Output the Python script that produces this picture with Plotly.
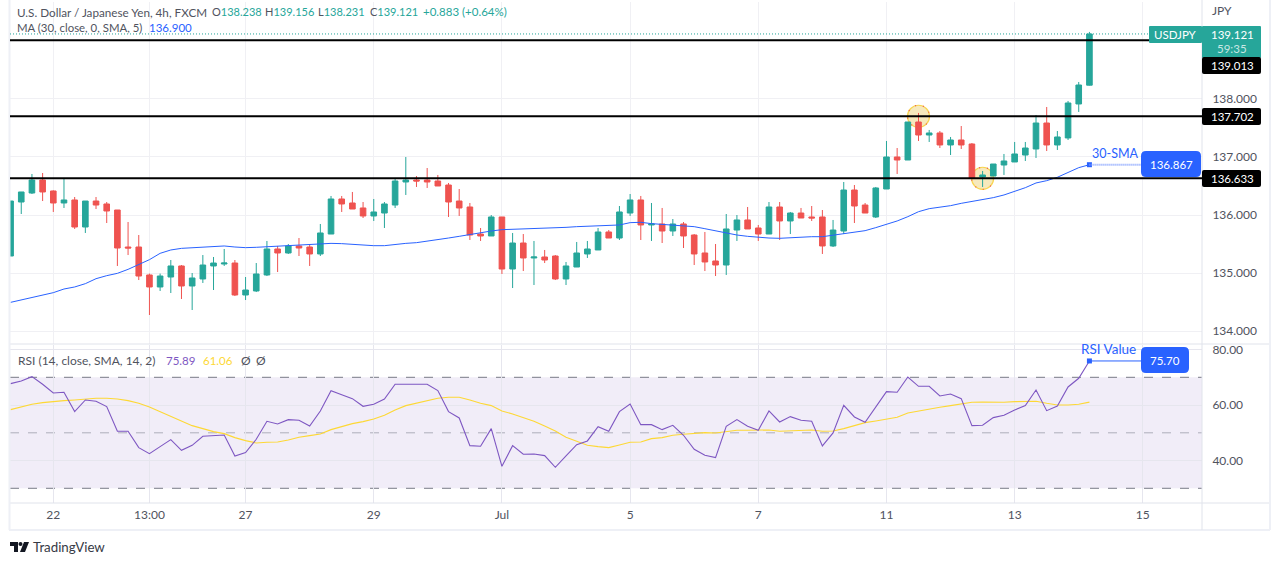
import plotly.graph_objects as go

W = 1274
H = 565
FONT = "Lato, 'Open Sans', sans-serif"

UP = "#26a69a"
DOWN = "#ef5350"
BLUE = "#2962ff"
PURPLE = "#7e57c2"
YELLOW = "#fdd835"
GRID = "#f0f0f4"
RSI_GRID = "#e6e6ee"
BORDER = "#e0e3eb"
TEXT = "#50535e"

# 4h USD/JPY candles
opens = [135.293, 136.224, 136.379, 136.603, 136.414, 136.207, 136.259, 135.793, 136.241, 136.19,
         136.086, 135.448, 135.448, 134.966, 134.759, 134.931, 135.121, 134.776, 134.897, 135.121,
         135.155, 135.172, 134.621, 134.69, 134.966, 135.414, 135.345, 135.466, 135.448, 135.328,
         135.672, 136.276, 136.207, 136.121, 135.983, 136.034, 136.172, 136.569, 136.603, 136.603,
         136.586, 136.517, 136.241, 136.138, 135.672, 135.638, 135.966, 135.069, 135.517, 135.259,
         135.276, 135.293, 134.897, 135.103, 135.328, 135.397, 135.707, 135.603, 136.034, 136.259,
         135.828, 135.845, 135.724, 135.845, 135.655, 135.345, 135.207, 135.138, 135.741, 135.914,
         135.776, 135.672, 136.138, 135.897, 136.034, 135.966, 135.966, 135.466, 135.724, 136.431,
         136.172, 135.966, 136.448, 137.0, 136.948, 137.603, 137.379, 137.414, 137.207, 137.293,
         137.224, 136.655, 136.672, 136.862, 136.914, 137.034, 137.138, 137.586, 137.207, 137.328,
         137.914, 138.238]
highs = [136.241, 136.397, 136.707, 136.724, 136.425, 136.638, 136.31, 136.241, 136.31, 136.224,
         136.086, 135.879, 135.655, 134.99, 134.99, 135.224, 135.138, 135.0, 135.31, 135.276,
         135.414, 135.224, 134.931, 135.172, 135.552, 135.466, 135.5, 135.603, 135.5, 135.845,
         136.328, 136.328, 136.397, 136.224, 136.276, 136.224, 136.621, 137.0, 136.672, 136.81,
         136.69, 136.552, 136.448, 136.207, 135.776, 136.0, 135.966, 135.69, 135.672, 135.552,
         135.397, 135.31, 135.19, 135.535, 135.552, 135.776, 135.741, 136.155, 136.362, 136.328,
         136.207, 136.121, 135.931, 135.879, 135.672, 135.707, 135.5, 136.017, 136.0, 136.138,
         135.828, 136.224, 136.224, 136.052, 136.121, 136.155, 136.086, 135.914, 136.569, 136.517,
         136.207, 136.483, 137.276, 137.155, 137.603, 137.759, 137.466, 137.448, 137.345, 137.534,
         137.241, 136.759, 136.879, 137.052, 137.259, 137.259, 137.724, 137.862, 137.448, 137.966,
         138.293, 139.156]
lows = [135.293, 136.017, 136.362, 136.241, 136.052, 136.121, 135.759, 135.69, 136.103, 135.862,
        135.121, 135.31, 134.879, 134.276, 134.69, 134.655, 134.552, 134.362, 134.828, 134.707,
        135.121, 134.603, 134.534, 134.672, 134.948, 135.017, 135.328, 135.293, 135.121, 135.293,
        135.672, 136.052, 136.103, 135.948, 135.897, 135.776, 136.121, 136.345, 136.483, 136.466,
        136.5, 135.966, 135.983, 135.569, 135.552, 135.638, 134.983, 134.741, 135.034, 134.793,
        135.172, 134.879, 134.793, 135.103, 135.259, 135.397, 135.603, 135.569, 135.983, 135.569,
        135.552, 135.517, 135.638, 135.431, 135.138, 135.034, 134.948, 134.966, 135.552, 135.759,
        135.552, 135.672, 135.569, 135.672, 135.948, 135.897, 135.328, 135.448, 135.672, 135.862,
        136.034, 135.948, 136.448, 136.707, 136.948, 137.276, 137.259, 137.155, 137.034, 137.138,
        136.638, 136.483, 136.672, 136.69, 136.914, 136.931, 136.983, 137.103, 137.121, 137.293,
        137.776, 138.231]
closes = [136.241, 136.397, 136.603, 136.397, 136.207, 136.259, 135.793, 136.241, 136.172, 136.069,
          135.431, 135.431, 134.948, 134.759, 134.948, 135.121, 134.776, 134.914, 135.138, 135.172,
          135.172, 134.621, 134.707, 134.983, 135.414, 135.345, 135.466, 135.431, 135.328, 135.69,
          136.276, 136.19, 136.103, 135.983, 136.052, 136.19, 136.586, 136.603, 136.586, 136.569,
          136.5, 136.224, 136.121, 135.655, 135.638, 135.966, 135.069, 135.517, 135.259, 135.276,
          135.224, 134.897, 135.121, 135.345, 135.414, 135.707, 135.603, 136.052, 136.259, 135.828,
          135.845, 135.724, 135.845, 135.638, 135.328, 135.19, 135.138, 135.759, 135.914, 135.759,
          135.672, 136.138, 135.897, 136.034, 135.948, 135.948, 135.466, 135.741, 136.431, 136.155,
          136.034, 136.466, 137.0, 136.948, 137.603, 137.379, 137.414, 137.207, 137.293, 137.207,
          136.638, 136.69, 136.879, 136.931, 137.052, 137.155, 137.586, 137.207, 137.345, 137.931,
          138.241, 139.121]
sma = [134.494, 134.534, 134.58, 134.626, 134.661, 134.724, 134.759, 134.816, 134.902, 134.954,
       134.994, 135.063, 135.144, 135.23, 135.339, 135.397, 135.425, 135.437, 135.448, 135.46,
       135.466, 135.448, 135.437, 135.443, 135.454, 135.46, 135.471, 135.488, 135.5, 135.506,
       135.511, 135.506, 135.494, 135.483, 135.471, 135.471, 135.494, 135.511, 135.523, 135.546,
       135.58, 135.603, 135.632, 135.667, 135.695, 135.724, 135.747, 135.753, 135.759, 135.759,
       135.764, 135.776, 135.787, 135.799, 135.805, 135.81, 135.816, 135.828, 135.868, 135.874,
       135.851, 135.839, 135.828, 135.816, 135.799, 135.764, 135.724, 135.695, 135.655, 135.632,
       135.615, 135.603, 135.598, 135.609, 135.621, 135.626, 135.626, 135.649, 135.678, 135.701,
       135.73, 135.782, 135.833, 135.897, 135.971, 136.057, 136.109, 136.132, 136.161, 136.201,
       136.23, 136.259, 136.299, 136.345, 136.402, 136.471, 136.552, 136.592, 136.65, 136.73,
       136.816, 136.867]
rsi = [67.72, 68.68, 70.24, 67.48, 64.36, 64.6, 57.63, 61.83, 61.35, 59.43,
       50.54, 50.54, 44.66, 42.49, 45.02, 47.54, 43.69, 45.49, 48.74, 49.1,
       49.22, 41.65, 42.85, 47.66, 54.14, 53.18, 54.75, 54.5, 52.46, 57.87,
       65.2, 63.75, 62.31, 59.55, 60.27, 62.19, 67.48, 67.48, 67.48, 67.48,
       65.2, 57.63, 55.35, 45.37, 45.14, 51.5, 37.93, 45.37, 42.25, 42.37,
       41.77, 37.57, 41.65, 45.74, 47.06, 52.22, 50.54, 57.63, 60.39, 52.94,
       52.94, 51.14, 52.7, 49.1, 44.05, 41.89, 41.05, 52.34, 54.75, 52.34,
       50.9, 57.87, 53.9, 55.83, 54.5, 54.14, 45.26, 49.94, 59.91, 55.7,
       53.78, 59.43, 64.84, 64.6, 70.12, 66.76, 66.76, 63.27, 63.99, 62.31,
       52.58, 52.7, 55.47, 56.31, 58.23, 59.79, 65.44, 57.99, 59.67, 66.52,
       69.64, 75.89]
rsi_ma = [58.35, 59.31, 60.27, 60.87, 61.35, 61.59, 61.83, 62.19, 62.43, 62.43,
          62.19, 61.59, 60.63, 59.31, 57.63, 56.07, 54.14, 52.58, 51.5, 50.42,
          49.7, 48.26, 47.18, 46.34, 46.58, 46.7, 47.42, 48.38, 48.98, 49.58,
          51.14, 52.34, 53.3, 54.02, 54.98, 56.31, 58.23, 59.79, 60.75, 61.71,
          62.43, 62.79, 62.79, 61.83, 60.63, 59.79, 57.87, 56.79, 55.59, 54.14,
          52.46, 50.66, 48.38, 46.82, 45.49, 45.02, 44.66, 45.62, 46.58, 46.7,
          47.9, 48.26, 49.1, 49.46, 49.7, 50.06, 49.94, 50.3, 50.9, 50.9,
          50.9, 51.02, 50.54, 50.78, 50.9, 51.02, 50.54, 50.66, 51.5, 52.46,
          53.66, 54.26, 54.86, 55.59, 57.15, 57.87, 58.71, 59.19, 59.79, 60.39,
          60.99, 61.11, 60.99, 60.99, 61.23, 61.35, 61.35, 60.63, 60.03, 60.03,
          60.27, 61.06]

bars = list(range(len(closes)))

date_ticks = [4, 13, 22, 34, 46, 58, 70, 82, 94, 106]
date_labels = ["22", "13:00", "27", "29", "Jul", "5", "7", "11", "13", "15"]
price_ticks = [134, 135, 136, 137, 138]
rsi_ticks = [40, 60, 80]
levels = [139.013, 137.702, 136.633]
last_price = 139.121
last_sma = 136.867
last_rsi = 75.89
circled = [(85, 137.702), (91, 136.633)]


def px_x(v):
    return v / W


def px_y(v):
    return 1 - v / H


def hline(y, x0=9, x1=1270, color=BORDER, width=1):
    return dict(type="line", xref="paper", yref="paper", x0=px_x(x0), x1=px_x(x1),
                y0=px_y(y), y1=px_y(y), line=dict(color=color, width=width))


def vline(x, y0=0, y1=530, color=BORDER, width=1):
    return dict(type="line", xref="paper", yref="paper", x0=px_x(x), x1=px_x(x),
                y0=px_y(y0), y1=px_y(y1), line=dict(color=color, width=width))


def box(x0, y0, x1, y1, color, r=2):
    # rounded rectangle in pixels
    xa, xb = px_x(x0), px_x(x1)
    ya, yb = px_y(y0), px_y(y1)
    rx, ry = r / W, r / H
    path = (f"M{xa + rx},{ya} L{xb - rx},{ya} Q{xb},{ya} {xb},{ya - ry} "
            f"L{xb},{yb + ry} Q{xb},{yb} {xb - rx},{yb} L{xa + rx},{yb} "
            f"Q{xa},{yb} {xa},{yb + ry} L{xa},{ya - ry} Q{xa},{ya} {xa + rx},{ya} Z")
    return dict(type="path", xref="paper", yref="paper", path=path,
                fillcolor=color, line=dict(width=0), layer="above")


def label(x, y, text, color=TEXT, size=12, anchor="left"):
    # annotations sit about 2px in from their anchor
    if anchor == "left":
        x = x - 2
    return dict(xref="paper", yref="paper", x=px_x(x), y=px_y(y), text=text, showarrow=False,
                xanchor=anchor, yanchor="middle", align=anchor,
                font=dict(family=FONT, size=size, color=color))


fig = go.Figure()

fig.add_trace(go.Candlestick(
    x=bars, open=opens, high=highs, low=lows, close=closes,
    increasing=dict(line=dict(color=UP, width=1), fillcolor=UP),
    decreasing=dict(line=dict(color=DOWN, width=1), fillcolor=DOWN),
    whiskerwidth=0, xaxis="x", yaxis="y",
))
fig.add_trace(go.Scatter(x=bars, y=sma, mode="lines", line=dict(color=BLUE, width=1),
                         xaxis="x", yaxis="y"))
fig.add_trace(go.Scatter(x=bars[-1:], y=[last_sma], mode="markers",
                         marker=dict(color=BLUE, size=5, symbol="square"), xaxis="x", yaxis="y"))
fig.add_trace(go.Scatter(x=bars, y=rsi_ma, mode="lines", line=dict(color=YELLOW, width=1.1),
                         xaxis="x2", yaxis="y2"))
fig.add_trace(go.Scatter(x=bars, y=rsi, mode="lines", line=dict(color=PURPLE, width=1.1),
                         xaxis="x2", yaxis="y2"))
fig.add_trace(go.Scatter(x=bars[-1:], y=[last_rsi], mode="markers",
                         marker=dict(color=BLUE, size=5, symbol="square"), xaxis="x2", yaxis="y2"))

shapes = []

# pane borders
shapes.append(hline(344))
shapes.append(hline(503))
shapes.append(hline(530, color="#eef0f6", width=2))
shapes.append(vline(1202))
shapes.append(vline(9.5, color="#eef0f6", width=2))
shapes.append(vline(1270, color="#eef0f6", width=2))

# RSI band
shapes.append(dict(type="rect", xref="x2 domain", yref="y2", x0=0, x1=1, y0=30, y1=70,
                   fillcolor="rgba(126,87,194,0.11)", line=dict(width=0), layer="below"))
for val, col in [(70, "#787b86"), (50, "rgba(120,123,134,0.55)"), (30, "#787b86")]:
    shapes.append(dict(type="line", xref="x2 domain", yref="y2", x0=0, x1=1, y0=val, y1=val,
                       line=dict(color=col, width=1, dash="dash"), layer="below"))

# highlighted swing points
for bar, level in circled:
    shapes.append(dict(type="circle", xref="x", yref="y", x0=bar - 1.03, x1=bar + 1.03,
                       y0=level - 0.19, y1=level + 0.19, fillcolor="#f6e9bd",
                       line=dict(color="#f8d552", width=1.2), layer="below"))
    shapes.append(dict(type="circle", xref="x", yref="y", x0=bar - 1.03, x1=bar + 1.03,
                       y0=level - 0.19, y1=level + 0.19,
                       line=dict(color="#ef5350", width=1.2, dash="1px,7px"), layer="below"))

# horizontal levels
shapes.append(dict(type="line", xref="x domain", yref="y", x0=0, x1=1, y0=last_price, y1=last_price,
                   line=dict(color=UP, width=1, dash="1px,2px")))
for val in levels:
    shapes.append(dict(type="line", xref="x domain", yref="y", x0=0, x1=1, y0=val, y1=val,
                       line=dict(color="#000000", width=2)))

# callout connectors
shapes.append(dict(type="line", xref="x", yref="y", x0=bars[-1], x1=106, y0=last_sma, y1=last_sma,
                   line=dict(color="#7f9dff", width=2, dash="1px,1px")))
shapes.append(dict(type="line", xref="x2", yref="y2", x0=bars[-1], x1=106, y0=last_rsi, y1=last_rsi,
                   line=dict(color=BLUE, width=1)))

# price scale boxes
shapes.append(box(1149, 26, 1202, 43, UP, r=1))
shapes.append(box(1202, 26, 1261, 58, UP, r=1))
shapes.append(box(1202, 57, 1261, 74, "#000000"))
shapes.append(box(1202, 108, 1261, 125, "#000000"))
shapes.append(box(1202, 170, 1261, 187, "#000000"))
shapes.append(box(1141, 151, 1201, 177, BLUE, r=5))
shapes.append(box(1141, 347, 1189, 373, BLUE, r=5))

# TradingView mark
shapes.append(dict(type="path", xref="paper", yref="paper", fillcolor="#131722", line=dict(width=0),
                   path=f"M{px_x(10)},{px_y(542)} L{px_x(18)},{px_y(542)} L{px_x(18)},{px_y(552)} "
                        f"L{px_x(14)},{px_y(552)} L{px_x(14)},{px_y(546)} L{px_x(10)},{px_y(546)} Z"))
shapes.append(dict(type="path", xref="paper", yref="paper", fillcolor="#131722", line=dict(width=0),
                   path=f"M{px_x(24)},{px_y(542)} L{px_x(29)},{px_y(542)} L{px_x(25)},{px_y(552)} "
                        f"L{px_x(20)},{px_y(552)} Z"))
shapes.append(dict(type="circle", xref="paper", yref="paper", fillcolor="#131722", line=dict(width=0),
                   x0=px_x(18.5), x1=px_x(22.5), y0=px_y(542), y1=px_y(546)))

annotations = [
    label(17, 12, "U.S. Dollar / Japanese Yen, 4h, FXCM", size=11.7),
    label(212, 12, f"O<span style='color:{UP}'>138.238</span>", size=11),
    label(265, 12, f"H<span style='color:{UP}'>139.156</span>", size=11),
    label(318, 12, f"L<span style='color:{UP}'>138.231</span>", size=11),
    label(370, 12, f"C<span style='color:{UP}'>139.121</span>", size=11),
    label(423, 12, "+0.883 (+0.64%)", color=UP, size=11.5),
    label(17, 28, "MA (30, close, 0, SMA, 5)", size=11.4),
    label(149, 28, "136.900", color=BLUE, size=11.5),
    label(18, 360, "RSI (14, close, SMA, 14, 2)"),
    label(166, 360, "75.89", color=PURPLE, size=11.5),
    label(203, 360, "61.06", color=YELLOW, size=11.5),
    label(241, 360, "Ø"),
    label(256, 360, "Ø"),
    label(1212, 11, "JPY"),
    label(1175.5, 34.5, "USDJPY", color="#ffffff", size=11.5, anchor="center"),
    label(1232, 35, "139.121", color="#ffffff", size=11.5, anchor="center"),
    label(1232, 48.5, "59:35", color="rgba(255,255,255,0.75)", size=11.5, anchor="center"),
    label(1232, 65.5, "139.013", color="#ffffff", size=11.5, anchor="center"),
    label(1232, 116.5, "137.702", color="#ffffff", size=11.5, anchor="center"),
    label(1232, 178.5, "136.633", color="#ffffff", size=11.5, anchor="center"),
    label(1171, 164, "136.867", color="#ffffff", size=11.5, anchor="center"),
    label(1165, 360, "75.70", color="#ffffff", size=11.5, anchor="center"),
    label(1115, 153, "30-SMA", color=BLUE, size=12.5, anchor="center"),
    label(1108, 349, "RSI Value", color=BLUE, size=13.5, anchor="center"),
    label(33, 547, "TradingView", color="#363a45", size=13.3),
]

x_range = [-0.054, 111.54]

fig.update_layout(
    width=W,
    height=H,
    margin=dict(l=0, r=0, t=0, b=0, autoexpand=False),
    paper_bgcolor="#ffffff",
    plot_bgcolor="#ffffff",
    showlegend=False,
    boxgap=0.25,
    font=dict(family=FONT, size=12, color=TEXT),
    shapes=shapes,
    annotations=annotations,
    xaxis=dict(domain=[px_x(10), px_x(1202)], range=x_range, anchor="y",
               rangeslider=dict(visible=False), tickvals=date_ticks, showticklabels=False,
               showgrid=True, gridcolor=GRID, gridwidth=1, zeroline=False, ticks=""),
    yaxis=dict(domain=[px_y(344), px_y(2)], range=[133.776, 139.672], anchor="x", side="right",
               tickvals=price_ticks, ticktext=[f"{v:.3f}" for v in price_ticks],
               showgrid=True, gridcolor=GRID, gridwidth=1, zeroline=False,
               ticks="outside", ticklen=7, tickcolor="rgba(0,0,0,0)"),
    xaxis2=dict(domain=[px_x(10), px_x(1202)], range=x_range, anchor="y2",
                tickvals=date_ticks, ticktext=date_labels,
                showgrid=True, gridcolor=RSI_GRID, gridwidth=1, zeroline=False,
                ticks="outside", ticklen=1, tickcolor="rgba(0,0,0,0)"),
    yaxis2=dict(domain=[px_y(503), px_y(345)], range=[24.7, 81.64], anchor="x2", side="right",
                tickvals=rsi_ticks, ticktext=[f"{v:.2f}" for v in rsi_ticks],
                showgrid=True, gridcolor=RSI_GRID, gridwidth=1, zeroline=False,
                ticks="outside", ticklen=7, tickcolor="rgba(0,0,0,0)"),
)

fig.write_html("out.html", config={"displayModeBar": False},
               post_script="document.body.style.margin='0';")
